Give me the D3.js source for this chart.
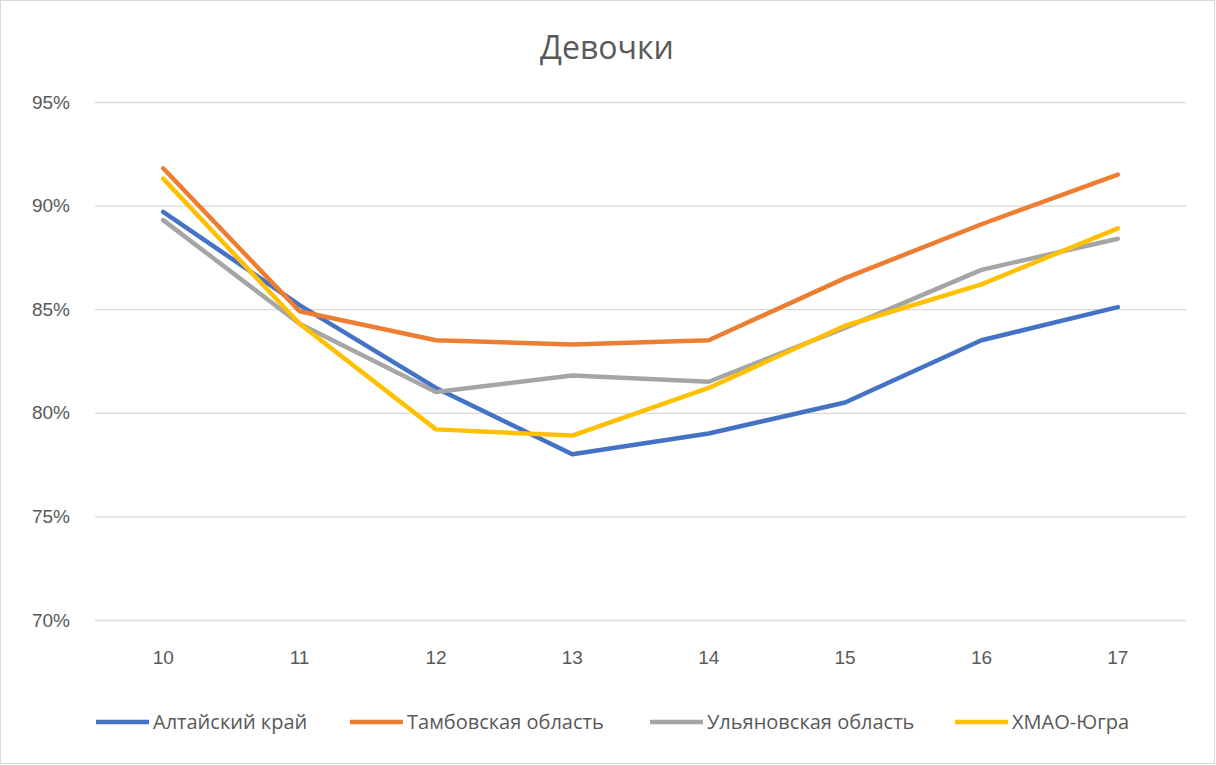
<!DOCTYPE html>
<meta charset="utf-8">
<style>
body { margin: 0; background: #fff; }
svg { display: block; font-family: "Open Sans", "Noto Sans", sans-serif; }
.grid line { stroke: #d9d9d9; stroke-width: 1.3; }
.tick text { fill: #595959; }
</style>
<svg width="1216" height="765"></svg>
<script src="https://cdnjs.cloudflare.com/ajax/libs/d3/7.8.5/d3.min.js"></script>
<script>

// ages on the x axis
var ages = ["10", "11", "12", "13", "14", "15", "16", "17"];
var yTicks = [0.70, 0.75, 0.80, 0.85, 0.90, 0.95];

var seriesNames = ["Алтайский край", "Тамбовская область", "Ульяновская область", "ХМАО-Югра"];
var seriesColors = ["#4472c4", "#ed7d31", "#a5a5a5", "#ffc000"];

var altai   = [0.897, 0.852, 0.812, 0.780, 0.790, 0.805, 0.835, 0.851];
var tambov  = [0.918, 0.849, 0.835, 0.833, 0.835, 0.865, 0.891, 0.915];
var ulyan   = [0.893, 0.843, 0.810, 0.818, 0.815, 0.841, 0.869, 0.884];
var hmao    = [0.913, 0.843, 0.792, 0.789, 0.812, 0.842, 0.862, 0.889];

var allSeries = [altai, tambov, ulyan, hmao];

var svg = d3.select("svg"),
    margin = {top: 102, right: 30, bottom: 145, left: 95},
    width = 1186 - margin.left,
    height = 620 - margin.top;

// chart border
svg.append("rect")
    .attr("x", 0.5).attr("y", 0.5)
    .attr("width", 1214).attr("height", 763)
    .attr("fill", "#fff")
    .attr("stroke", "#d9d9d9");

svg.append("text")
    .attr("x", 607)
    .attr("y", 59)
    .attr("text-anchor", "middle")
    .attr("fill", "#595959")
    .style("font-size", "32px")
    .text("Девочки");

var x = d3.scaleBand().domain(ages).range([0, width]);
var y = d3.scaleLinear().domain([0.70, 0.95]).range([height, 0]);

var g = svg.append("g")
    .attr("transform", "translate(" + margin.left + "," + margin.top + ")");

// horizontal gridlines + y labels
g.append("g")
    .attr("class", "grid")
    .call(d3.axisLeft(y).tickValues(yTicks).tickSize(-width).tickFormat(d3.format(".0%")).tickPadding(25))
    .call(function(a) { a.select(".domain").remove(); })
    .selectAll("text").style("font-size", "19px");

g.append("g")
    .attr("transform", "translate(0," + height + ")")
    .call(d3.axisBottom(x).tickSize(0).tickPadding(31))
    .call(function(a) { a.select(".domain").remove(); })
    .selectAll("text").style("font-size", "19px");

var line = d3.line()
    .x(function(d, i) { return x(ages[i]) + x.bandwidth() / 2; })
    .y(function(d) { return y(d); });

g.selectAll(".series")
    .data(allSeries)
  .enter().append("path")
    .attr("class", "series")
    .attr("d", line)
    .attr("fill", "none")
    .attr("stroke", function(d, i) { return seriesColors[i]; })
    .attr("stroke-width", 4.5)
    .attr("stroke-linejoin", "round")
    .attr("stroke-linecap", "round");

// legend
var legendX = [96, 350, 650, 955];
var legend = svg.append("g").selectAll("g")
    .data(seriesNames)
  .enter().append("g")
    .attr("transform", function(d, i) { return "translate(" + legendX[i] + ",722)"; });

legend.append("line")
    .attr("x1", 0).attr("x2", 53)
    .attr("stroke", function(d, i) { return seriesColors[i]; })
    .attr("stroke-width", 4.5);

legend.append("text")
    .attr("x", 57)
    .attr("y", 7)
    .attr("fill", "#595959")
    .style("font-size", "20px")
    .text(function(d) { return d; });

</script>
